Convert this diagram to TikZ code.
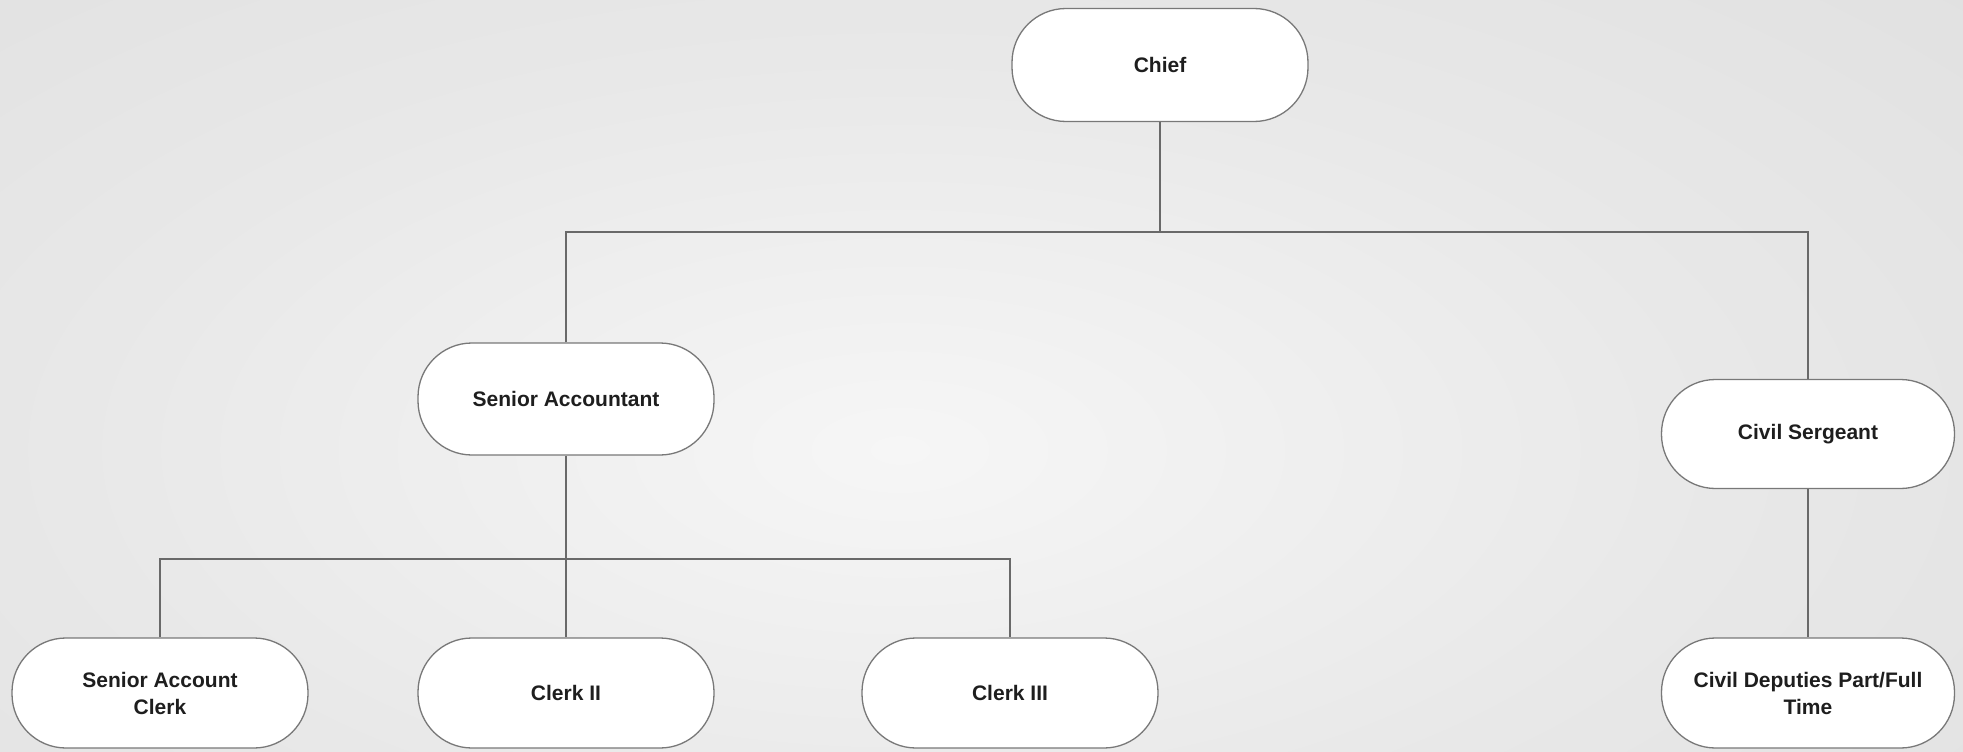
\documentclass[tikz,border=0pt]{standalone}
\usepackage{fontspec}
\setmainfont{Liberation Sans}
\definecolor{bgin}{RGB}{246,246,246}
\definecolor{bgmid}{RGB}{232,232,232}
\definecolor{bgout}{RGB}{218,218,218}
\definecolor{edge}{RGB}{120,120,120}
\definecolor{wire}{RGB}{105,105,105}
\definecolor{ink}{RGB}{30,30,30}
\pgfdeclareradialshading{bgshade}{\pgfpoint{0bp}{0bp}}{color(0bp)=(bgin); color(18bp)=(bgmid); color(45bp)=(bgout); color(100bp)=(bgout)}
\begin{document}
\begin{tikzpicture}[x=1pt,y=-1pt,
  rolebox/.style={draw=edge, line width=1.3pt, fill=white, rounded corners=54pt,
    minimum width=296pt, minimum height=111pt, align=center, inner sep=0pt,
    text=ink, font=\fontsize{21}{27}\selectfont\bfseries},
  wireline/.style={draw=wire, line width=1.3pt}]
\useasboundingbox (0,0) rectangle (1963,752);
\begin{scope}
  \clip (0,0) rectangle (1963,752);
  \fill[bgout] (0,0) rectangle (1963,752);
  \shade[shading=bgshade] (-250,-100) rectangle (2050,1000);
\end{scope}
\node[rolebox, minimum height=113pt] (chief) at (1160,65) {Chief};
\node[rolebox, minimum height=112pt] (sa) at (566,399) {Senior Accountant};
\node[rolebox, minimum height=109pt, minimum width=293pt] (cs) at (1808,434) {Civil Sergeant};
\node[rolebox, minimum height=110pt] (sac) at (160,693) {Senior Account\\Clerk};
\node[rolebox, minimum height=110pt] (c2) at (566,693) {Clerk II};
\node[rolebox, minimum height=110pt] (c3) at (1010,693) {Clerk III};
\node[rolebox, minimum height=110pt, minimum width=293pt] (cd) at (1808,693) {Civil Deputies Part/Full\\Time};
\coordinate (j1) at (1160,232);
\coordinate (j2) at (566,559);
\draw[wireline] (chief.south) -- (j1);
\draw[wireline] (sa.north) |- (j1) -| (cs.north);
\draw[wireline] (sa.south) -- (c2.north);
\draw[wireline] (sac.north) |- (j2) -| (c3.north);
\draw[wireline] (cs.south) -- (cd.north);
\end{tikzpicture}
\end{document}
